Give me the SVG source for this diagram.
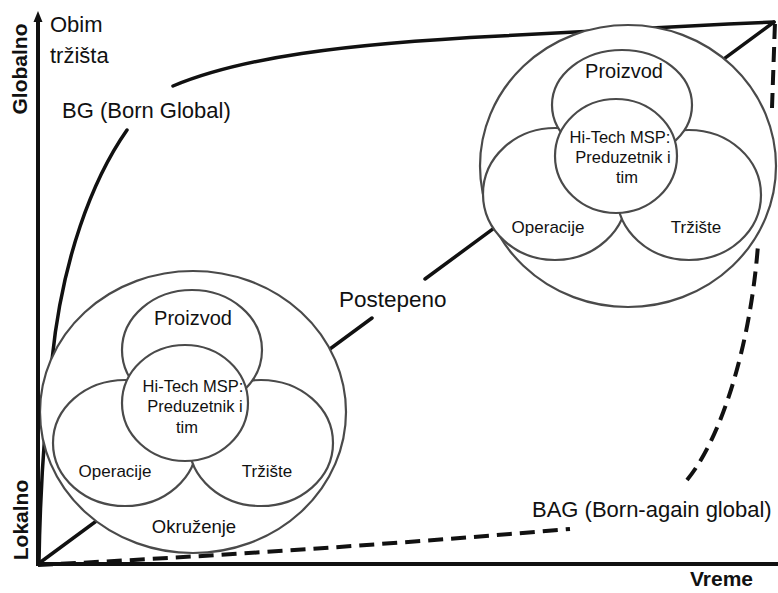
<svg xmlns="http://www.w3.org/2000/svg" width="778" height="593" viewBox="0 0 778 593">
  <style>
    text { font-family: "Liberation Sans", Arial, sans-serif; fill: #111; }
    .lbl { font-size: 22px; }
    .axis-title { font-size: 21px; font-weight: bold; }
    .ring { fill: #fff; stroke: #4a4a4a; stroke-width: 2.2; }
    .curve { fill: none; stroke: #111; stroke-width: 3.5; stroke-linecap: round; }
    .dash { fill: none; stroke: #111; stroke-width: 4; stroke-dasharray: 15 8; }
    .big { font-size: 20px; text-anchor: middle; }
    .core { font-size: 16.5px; text-anchor: middle; }
    .petal { font-size: 17px; text-anchor: middle; }
  </style>

  <!-- growth paths -->
  <g id="connectors">
    <!-- BG: steep rise, then flat along the top -->
    <path class="curve" d="M39,562 C40,500 45,420 52,360 C62,260 92,180 127,130"/>
    <path class="curve" d="M173,86 C240,58 340,44 500,36 S700,25 774,22"/>
    <!-- gradual path (straight diagonal, broken for its label) -->
    <path class="curve" d="M38,564 L372,318"/>
    <path class="curve" d="M425,279 L774,22"/>
  </g>

  <!-- local-stage firm -->
  <g id="node-local">
    <ellipse class="ring" cx="193" cy="412" rx="153" ry="141"/>
    <ellipse class="ring" cx="125" cy="443" rx="72" ry="63"/>
    <ellipse class="ring" cx="261" cy="443" rx="72" ry="63"/>
    <ellipse class="ring" cx="192" cy="350" rx="70" ry="60"/>
    <ellipse class="ring" cx="185" cy="403" rx="63" ry="58"/>
    <text class="big" x="193" y="325">Proizvod</text>
    <text class="core" x="193" y="392">Hi-Tech MSP:</text>
    <text class="core" x="195" y="412">Preduzetnik i</text>
    <text class="core" x="187" y="433">tim</text>
    <text class="petal" x="115" y="477">Operacije</text>
    <text class="petal" x="267" y="477">Tržište</text>
    <text x="194" y="533" style="font-size:18.5px;text-anchor:middle">Okruženje</text>
  </g>

  <!-- global-stage firm -->
  <g id="node-global">
    <ellipse class="ring" cx="628" cy="166" rx="148" ry="141"/>
    <ellipse class="ring" cx="555" cy="194" rx="72" ry="66"/>
    <ellipse class="ring" cx="689" cy="195" rx="72" ry="65"/>
    <ellipse class="ring" cx="622" cy="105" rx="70" ry="55"/>
    <ellipse class="ring" cx="616" cy="156" rx="61" ry="57"/>
    <text class="big" x="624" y="78">Proizvod</text>
    <text class="core" x="620" y="143">Hi-Tech MSP:</text>
    <text class="core" x="623" y="163">Preduzetnik i</text>
    <text class="core" x="627" y="183">tim</text>
    <text class="petal" x="548" y="233">Operacije</text>
    <text class="petal" x="696" y="233">Tržište</text>
  </g>

  <!-- BAG: long flat stretch, then late steep rise -->
  <g id="bag-path">
    <path class="dash" d="M38,565 Q300,552 570,529"/>
    <path class="dash" d="M687,480 C720,440 750,350 758,245"/>
    <path class="dash" d="M772,108 L775,22"/>
  </g>

  <!-- axes -->
  <g id="axes">
    <line x1="38" y1="20" x2="38" y2="566" stroke="#111" stroke-width="4"/>
    <polygon points="38,11 33.5,22 42.5,22" fill="#111"/>
    <line x1="36" y1="564" x2="778" y2="564" stroke="#111" stroke-width="4"/>
  </g>

  <!-- labels -->
  <g id="labels">
    <text class="axis-title" transform="translate(27,69) rotate(-90)" text-anchor="middle">Globalno</text>
    <text class="axis-title" transform="translate(28,520) rotate(-90)" text-anchor="middle">Lokalno</text>
    <text class="lbl" x="50" y="32">Obim</text>
    <text class="lbl" x="50" y="63">tržišta</text>
    <text class="lbl" x="62" y="118">BG (Born Global)</text>
    <text class="lbl" x="339" y="307" style="font-size:22.5px">Postepeno</text>
    <text class="lbl" x="532" y="517">BAG (Born-again global)</text>
    <text x="690" y="586" style="font-size:21px;font-weight:bold">Vreme</text>
  </g>
</svg>
